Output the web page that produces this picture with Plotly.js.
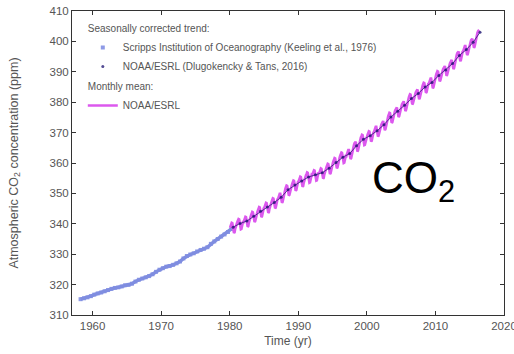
<!DOCTYPE html>
<html>
<head>
<meta charset="utf-8">
<script src="https://cdn.plot.ly/plotly-3.0.1.min.js"></script>
<style>html,body{margin:0;padding:0;background:#fff;}#chart{width:514px;height:354px;}</style>
</head>
<body>
<div id="chart"></div>
<script>
// Scripps seasonally corrected trend, two readings per year (year + 0.25, year + 0.75)
var scrippsStartYear = 1958;
var scrippsValues = [
  315.2, 315.5, 315.8, 316.2, 316.7, 317.1, 317.4, 317.8, 318.2, 318.6,
  318.9, 319.1, 319.4, 319.8, 319.9, 320.3, 321.0, 321.6, 322.0, 322.4,
  322.8, 323.4, 324.2, 324.9, 325.4, 325.9, 326.1, 326.5, 327.0, 327.6,
  328.6, 329.4, 329.9, 330.3, 330.9, 331.4, 331.8, 332.3, 333.4, 334.2,
  335.0, 335.8, 336.5, 337.3, 338.3
];

// NOAA/ESRL seasonally corrected trend, annual (mid-year)
var noaaTrendYears = [1980,1981,1982,1983,1984,1985,1986,1987,1988,1989,1990,1991,1992,1993,1994,1995,1996,1997,1998,1999,2000,2001,2002,2003,2004,2005,2006,2007,2008,2009,2010,2011,2012,2013,2014,2015,2016];
var noaaTrendValues = [338.9,340.1,340.9,342.5,344.1,345.5,347.0,348.7,351.2,352.8,354.1,355.4,356.1,356.8,358.3,360.2,361.9,363.1,365.7,367.8,369.0,370.6,372.6,375.1,377.0,379.0,381.2,382.9,385.0,386.5,388.8,390.6,392.7,395.4,397.3,399.7,403.0];

// NOAA/ESRL monthly mean, one row per year (Jan..Dec)
var monthlyStartYear = 1980;
var monthlyRows = [
  [338.7,339.3,339.8,340.3,340.2,339.2,337.9,337.0,337.2,338.3,339.2,339.9],
  [340.1,340.7,341.1,341.6,341.5,340.5,339.0,338.2,338.3,339.3,340.2,340.9],
  [340.7,341.3,341.8,342.3,342.2,341.2,339.9,339.0,339.2,340.3,341.2,341.9],
  [342.3,342.9,343.4,343.9,343.8,342.8,341.5,340.6,340.8,341.9,342.8,343.5],
  [343.9,344.5,345.0,345.5,345.4,344.4,343.1,342.2,342.4,343.5,344.4,345.1],
  [345.3,345.9,346.4,346.9,346.8,345.8,344.5,343.6,343.8,344.9,345.8,346.5],
  [346.8,347.4,347.9,348.4,348.3,347.3,346.0,345.1,345.3,346.4,347.3,348.0],
  [348.1,348.8,349.4,349.9,349.9,349.0,347.7,346.9,347.2,348.3,349.3,350.1],
  [351.0,351.6,352.1,352.6,352.5,351.5,350.2,349.3,349.5,350.6,351.5,352.2],
  [352.6,353.2,353.7,354.2,354.1,353.1,351.8,350.9,351.1,352.2,353.1,353.8],
  [353.9,354.5,355.0,355.5,355.4,354.4,353.1,352.2,352.4,353.5,354.4,355.1],
  [355.4,356.0,356.4,356.9,356.8,355.8,354.3,353.5,353.6,354.6,355.5,356.2],
  [356.1,356.7,357.1,357.6,357.5,356.5,355.0,354.2,354.3,355.3,356.2,356.9],
  [356.6,357.2,357.7,358.2,358.1,357.1,355.8,354.9,355.1,356.2,357.1,357.8],
  [358.1,358.7,359.2,359.7,359.6,358.6,357.3,356.4,356.6,357.7,358.6,359.3],
  [360.0,360.6,361.1,361.6,361.5,360.5,359.2,358.3,358.5,359.6,360.5,361.2],
  [361.9,362.5,362.9,363.4,363.3,362.3,360.8,360.0,360.1,361.1,362.0,362.7],
  [362.5,363.2,363.8,364.3,364.3,363.4,362.1,361.3,361.6,362.7,363.7,364.5],
  [365.3,366.0,366.5,367.0,367.0,366.0,364.7,363.8,364.1,365.2,366.2,366.9],
  [367.8,368.4,368.8,369.3,369.2,368.2,366.7,365.9,366.0,367.0,367.9,368.6],
  [368.8,369.4,369.9,370.4,370.3,369.3,368.0,367.1,367.3,368.4,369.3,370.0],
  [370.2,370.9,371.4,371.9,371.9,370.9,369.6,368.7,369.0,370.1,371.1,371.8],
  [372.0,372.7,373.3,373.8,373.8,372.9,371.6,370.8,371.1,372.2,373.2,374.0],
  [374.9,375.5,376.0,376.5,376.4,375.4,374.1,373.2,373.4,374.5,375.4,376.1],
  [376.6,377.3,377.8,378.3,378.3,377.3,376.0,375.1,375.4,376.5,377.5,378.2],
  [378.6,379.3,379.8,380.3,380.3,379.3,378.0,377.1,377.4,378.5,379.5,380.2],
  [381.0,381.6,382.1,382.6,382.5,381.5,380.2,379.3,379.5,380.6,381.5,382.2],
  [382.5,383.2,383.7,384.2,384.2,383.2,381.9,381.0,381.3,382.4,383.4,384.1],
  [384.8,385.4,385.9,386.4,386.3,385.3,384.0,383.1,383.3,384.4,385.3,386.0],
  [386.1,386.8,387.3,387.8,387.8,386.8,385.5,384.6,384.9,386.0,387.0,387.7],
  [388.6,389.2,389.7,390.2,390.1,389.1,387.8,386.9,387.1,388.2,389.1,389.8],
  [390.2,390.9,391.4,391.9,391.9,390.9,389.6,388.7,389.0,390.1,391.1,391.8],
  [392.1,392.8,393.4,393.9,393.9,393.0,391.7,390.9,391.2,392.3,393.3,394.1],
  [395.0,395.7,396.2,396.7,396.7,395.7,394.4,393.5,393.8,394.9,395.9,396.6],
  [396.7,397.4,398.0,398.5,398.5,397.6,396.3,395.5,395.8,396.9,397.9,398.7],
  [399.1,399.8,400.4,400.9,400.9,400.0,398.7,397.9,398.2,399.3,400.3,401.1],
  [402.2,402.8,403.3,403.7,403.8]
];

var xTickVals = [1960, 1970, 1980, 1990, 2000, 2010, 2020];
var yTickVals = [310, 320, 330, 340, 350, 360, 370, 380, 390, 400, 410];

// build x positions from the tables
var scrippsX = scrippsValues.map(function (v, i) { return scrippsStartYear + 0.25 + i * 0.5; });
var trendX = noaaTrendYears.map(function (y) { return y + 0.5; });
var monthlyX = [], monthlyY = [];
monthlyRows.forEach(function (row, r) {
  row.forEach(function (v, m) {
    monthlyX.push(monthlyStartYear + r + (m + 0.5) / 12);
    monthlyY.push(v);
  });
});

var FONT = 'Liberation Sans, Arial, sans-serif';
var GREY = '#555555';

var traces = [
  { x: scrippsX, y: scrippsValues, mode: 'markers', name: 'Scripps Institution of Oceanography (Keeling et al., 1976)',
    marker: { symbol: 'square', size: 4, color: '#8e9ae6' }, legendgroup: 'trend',
    legendgrouptitle: { text: 'Seasonally corrected trend:', font: { size: 10, color: GREY, family: FONT } } },
  { x: scrippsX, y: scrippsValues, mode: 'lines', line: { color: '#7f8de0', width: 3.4 },
    showlegend: false, legendgroup: 'trend', hoverinfo: 'skip' },
  { x: monthlyX, y: monthlyY, mode: 'lines', name: 'NOAA/ESRL',
    line: { color: '#dc58ee', width: 2.6 }, legendgroup: 'monthly',
    legendgrouptitle: { text: 'Monthly mean:', font: { size: 10, color: GREY, family: FONT } } },
  { x: trendX, y: noaaTrendValues, mode: 'lines', line: { color: '#241a72', width: 1 }, opacity: 0.75,
    showlegend: false, legendgroup: 'trend', hoverinfo: 'skip' },
  { x: trendX, y: noaaTrendValues, mode: 'markers', name: 'NOAA/ESRL (Dlugokencky & Tans, 2016)',
    marker: { symbol: 'circle', size: 3, color: '#1a1070' }, opacity: 0.75, legendgroup: 'trend' }
];

var axisCommon = {
  showline: true, linecolor: '#333333', linewidth: 1, mirror: 'ticks',
  ticks: 'inside', ticklen: 4, tickwidth: 1, tickcolor: '#333333',
  showgrid: false, zeroline: false, ticklabeloverflow: 'allow',
  tickfont: { family: FONT, size: 11.5, color: GREY }
};

var layout = {
  width: 514, height: 354,
  margin: { l: 72, r: 10, t: 11, b: 39 },
  paper_bgcolor: '#ffffff', plot_bgcolor: '#ffffff',
  font: { family: FONT, color: GREY },
  xaxis: Object.assign({}, axisCommon, {
    range: [1957, 2020], tickvals: xTickVals,
    title: { text: 'Time (yr)', font: { family: FONT, size: 12, color: GREY }, standoff: 5 }
  }),
  yaxis: Object.assign({}, axisCommon, {
    range: [310, 410], tickvals: yTickVals,
    title: { text: 'Atmospheric CO<sub>2</sub> concentration (ppm)', font: { family: FONT, size: 12.5, color: GREY }, standoff: 28 }
  }),
  legend: {
    x: 0.025, y: 0.99, xanchor: 'left', yanchor: 'top',
    bgcolor: 'rgba(0,0,0,0)', borderwidth: 0,
    font: { family: FONT, size: 10, color: GREY },
    traceorder: 'grouped', tracegroupgap: 1, itemwidth: 30
  },
  annotations: [{
    xref: 'paper', yref: 'paper', x: 0.69, y: 0.44, xanchor: 'left', yanchor: 'middle',
    text: 'CO<sub>2</sub>', showarrow: false,
    font: { family: FONT, size: 44, color: '#000000' }
  }],
  showlegend: true
};

Plotly.newPlot('chart', traces, layout, { displayModeBar: false, staticPlot: true });
</script>
</body>
</html>
